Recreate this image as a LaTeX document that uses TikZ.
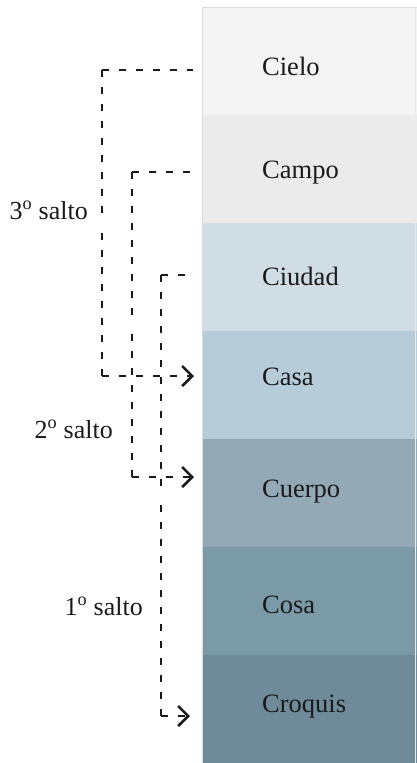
\documentclass[tikz,border=0pt]{standalone}
\usepackage{fontspec}
\setmainfont{Liberation Serif}
\usetikzlibrary{arrows.meta,calc}
\definecolor{ink}{HTML}{1A1A1A}
\definecolor{cCielo}{HTML}{F4F4F4}
\definecolor{cCampo}{HTML}{ECEBEB}
\definecolor{cCiudad}{HTML}{D0DDE4}
\definecolor{cCasa}{HTML}{B6CCD9}
\definecolor{cCuerpo}{HTML}{93A9B5}
\definecolor{cCosa}{HTML}{7B9AA8}
\definecolor{cCroquis}{HTML}{6F8A98}
\definecolor{edge}{HTML}{DCDCDC}
\begin{document}
\begin{tikzpicture}[x=1pt,y=-1pt,
  band/.style={anchor=north west, minimum width=215pt, minimum height=108pt,
    inner sep=0pt, outer sep=0pt, draw=none},
  word/.style={anchor=base west, font=\fontsize{26.5}{30}\selectfont, text=ink, inner sep=0pt},
  jump/.style={anchor=base east, font=\fontsize{26}{30}\selectfont, text=ink, inner sep=0pt},
  dashline/.style={draw=ink, line width=2.8pt, dash pattern=on 7pt off 10pt},
  tip/.style={-{Straight Barb[length=10pt,width=20pt,line width=2.6pt]}}]
\useasboundingbox (0,0) rectangle (417,763);
% column of bands
\node[band, fill=cCielo]   (cielo)   at (202,7)   {};
\node[band, fill=cCampo]   (campo)   at (202,115) {};
\node[band, fill=cCiudad]  (ciudad)  at (202,223) {};
\node[band, fill=cCasa]    (casa)    at (202,331) {};
\node[band, fill=cCuerpo]  (cuerpo)  at (202,439) {};
\node[band, fill=cCosa]    (cosa)    at (202,547) {};
\node[band, fill=cCroquis] (croquis) at (202,655) {};
\draw[edge, line width=0.8pt] (cielo.north west) -- (cielo.north east);
\draw[edge, line width=0.8pt] (cielo.north west) -- (croquis.south west);
\draw[edge!60, line width=0.6pt] ([xshift=-2pt]cielo.north east) -- ([xshift=-2pt]croquis.south east);
% words
\node[word] (tcielo)   at (262,75)  {Cielo};
\node[word] (tcampo)   at (262,178) {Campo};
\node[word] (tciudad)  at (262,285) {Ciudad};
\node[word] (tcasa)    at (262,385) {Casa};
\node[word] (tcuerpo)  at (262,497) {Cuerpo};
\node[word] (tcosa)    at (262,613) {Cosa};
\node[word] (tcroquis) at (262,712) {Croquis};
% jump labels
\node[jump] (l3) at (88,219)  {3\textsuperscript{o} salto};
\node[jump] (l2) at (113,438) {2\textsuperscript{o} salto};
\node[jump] (l1) at (143,615) {1\textsuperscript{o} salto};
% connector points
\coordinate (s3)  at (193,70);
\coordinate (tc3) at (102,70);
\coordinate (bc3) at (102,376);
\coordinate (e3)  at (194,376);
\coordinate (s2)  at (193,172);
\coordinate (tc2) at (132,172);
\coordinate (bc2) at (132,477);
\coordinate (e2)  at (194,477);
\coordinate (s1)  at (190,275);
\coordinate (tc1) at (161,275);
\coordinate (bc1) at (161,716);
\coordinate (e1)  at (190,716);
\coordinate (m3) at ($(tc3)!0.5!(bc3)$);
\coordinate (m2) at ($(tc2)!0.5!(bc2)$);
\coordinate (m1) at ($(tc1)!0.5!(bc1)$);
% 3rd jump: Cielo -> Casa
\draw[dashline] (tc3) -- (s3);
\draw[dashline] (tc3) -- (m3);
\draw[dashline] (bc3) -- (m3);
\draw[dashline, tip] (bc3) -- (e3);
% 2nd jump: Campo -> Cuerpo
\draw[dashline] (tc2) -- (s2);
\draw[dashline] (tc2) -- (m2);
\draw[dashline] (bc2) -- (m2);
\draw[dashline, tip] (bc2) -- (e2);
% 1st jump: Ciudad -> Croquis
\draw[dashline] (tc1) -- (s1);
\draw[dashline] (tc1) -- (m1);
\draw[dashline] (bc1) -- (m1);
\draw[dashline, tip] (bc1) -- (e1);
\end{tikzpicture}
\end{document}
